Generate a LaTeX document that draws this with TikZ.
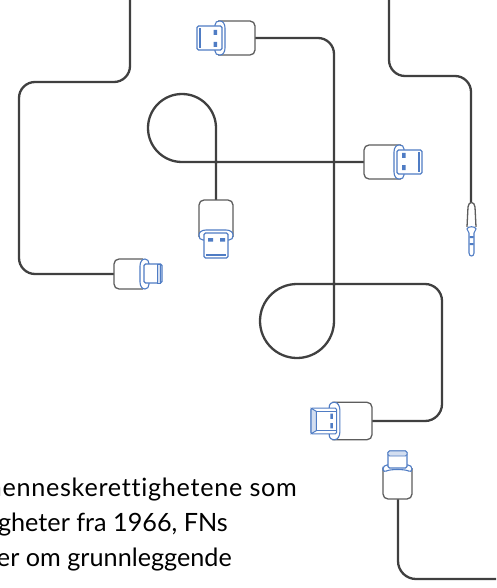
\documentclass[tikz,border=0pt]{standalone}
\usepackage{fontspec}
\setmainfont{Lato}[Ligatures=NoCommon]
\definecolor{cablegrey}{HTML}{404040}
\definecolor{plugblue}{HTML}{4F7CC4}
\tikzset{
 x=1pt,y=-1pt,
 cable/.style={draw=cablegrey,line width=2.3pt},
 shell/.style={draw=cablegrey!85,line width=1.3pt,fill=white,rounded corners=5pt},
 collar/.style={draw=plugblue,line width=1.1pt,fill=white,rounded corners=4pt},
 tip/.style={draw=plugblue,line width=1.1pt,fill=white,rounded corners=1.5pt},
 pin/.style={fill=plugblue,draw=none},
 body/.style={font=\fontsize{25.2}{25.2}\selectfont,anchor=base east,text=black,inner sep=0pt},
 usbplug/.pic={
  \draw[shell] (-37,-17) -- (0,-17) -- (0,17) -- (-37,17);
  \draw[collar,rounded corners=0pt] (-35,-17) .. controls (-38,-17) and (-40,-16) .. (-40,-13) -- (-40,13) .. controls (-40,16) and (-38,17) .. (-35,17) .. controls (-32,17) and (-30,14) .. (-30,10) -- (-30,-10) .. controls (-30,-14) and (-32,-17) .. (-35,-17) -- cycle;
  \draw[tip] (-58,-12) rectangle (-33,12);
  \fill[pin] (-56,-10) rectangle (-54,10);
  \fill[pin] (-41.5,-8) rectangle (-38,-3) (-41.5,4) rectangle (-38,9);
 }
}
\begin{document}
\begin{tikzpicture}
\useasboundingbox (0,0) rectangle (496,588);
\fill[white] (0,0) rectangle (496,588);
% cables
\coordinate (c1a) at (130,0);
\coordinate (c1b) at (114,274);
\draw[cable,rounded corners=16pt] (c1a) -- (130,82) -- (19,82) -- (19,274) -- (c1b);
\coordinate (c2a) at (255,38);
\coordinate (c2b) at (372,421);
\draw[cable,line join=round] (c2a) -- (318,38) arc (-90:0:16) -- (334,321) arc (0:270:37) -- (425,284) arc (-90:0:17) -- (442,404) arc (0:90:17) -- (c2b);
\coordinate (c3a) at (365,162);
\coordinate (c3b) at (216,200);
\draw[cable] (c3a) -- (182,162) arc (90:270:34) arc (-90:0:34) -- (c3b);
\coordinate (c4a) at (389,0);
\coordinate (c4b) at (471,204);
\draw[cable,rounded corners=16pt] (c4a) -- (389,76) -- (471,76) -- (c4b);
\coordinate (c5a) at (398,498);
\coordinate (c5b) at (496,579);
\draw[cable,rounded corners=18pt] (c5a) -- (398,579) -- (c5b);
% USB plugs
\pic at (255,38) {usbplug};
\pic[rotate=180] at (364,162) {usbplug};
\pic[rotate=90] at (216,200) {usbplug};
\begin{scope}[shift={(372,421)},scale=1.07]
\draw[shell] (-37,-17.5) -- (0,-17.5) -- (0,17.5) -- (-37,17.5);
\draw[collar,rounded corners=0pt] (-35,-17.5) .. controls (-38,-17.5) and (-40,-16) .. (-40,-13) -- (-40,13) .. controls (-40,16) and (-38,17.5) .. (-35,17.5) .. controls (-32,17.5) and (-30,14) .. (-30,10) -- (-30,-10) .. controls (-30,-14) and (-32,-17.5) .. (-35,-17.5) -- cycle;
\draw[tip] (-57,-12) rectangle (-33,12);
\draw[plugblue,line width=1pt,fill=plugblue!25] (-57,-12) -- (-52,-9) -- (-52,9) -- (-57,12) -- cycle;
\draw[plugblue,line width=1pt] (-52,-9) -- (-33,-9) (-52,9) -- (-33,9);
\fill[plugblue] (-39,-7) rectangle (-36.5,-2) (-39,2) rectangle (-36.5,7);
\end{scope}
% jack
\draw[cablegrey!85,line width=1.3pt,fill=white] (467,227) -- (468,207) .. controls (468.5,201) and (474.5,201) .. (475,207) -- (476,227);
\draw[plugblue,line width=1.1pt,fill=white] (467,229) .. controls (467,226) and (476,226) .. (476,229) -- (474,233) -- (474,253) .. controls (474,257) and (469,257) .. (469,253) -- (469,233) -- cycle;
\fill[plugblue] (469.5,236) rectangle (473.5,238) (469.5,243) rectangle (473.5,245);
% lightning plug
\draw[shell] (143,259) -- (114,259) -- (114,289) -- (143,289);
\draw[collar,rounded corners=0pt] (145,259) .. controls (147.5,259) and (149,261) .. (149,264) -- (149,284) .. controls (149,287) and (147.5,289) .. (145,289) .. controls (142,289) and (140,286) .. (140,282) -- (140,266) .. controls (140,262) and (142,259) .. (145,259) -- cycle;
\draw[tip] (144,264) rectangle (162,283);
\draw[plugblue,line width=.8pt,fill=plugblue!25] (157,264) rectangle (160,283);
% USB-C plug
\draw[shell] (383,468) -- (383,499) -- (412,499) -- (412,468);
\draw[collar] (383,473) -- (383,465) -- (412,465) -- (412,473) .. controls (405,469) and (390,469) .. (383,473) -- cycle;
\draw[tip] (388,451) rectangle (407,468);
\draw[plugblue,line width=.8pt,fill=plugblue!25,rounded corners=1.5pt] (388,451) rectangle (407,456);
% text
\begin{scope}
\clip (0,440) rectangle (340,588);
\node[body] (t1) at (297,496) {\addfontfeature{LetterSpace=2.8}menneskerettighetene som};
\node[body] (t2) at (228,531) {gheter fra 1966, FNs};
\node[body] (t3) at (232,566) {er om grunnleggende};
\end{scope}
\end{tikzpicture}
\end{document}
